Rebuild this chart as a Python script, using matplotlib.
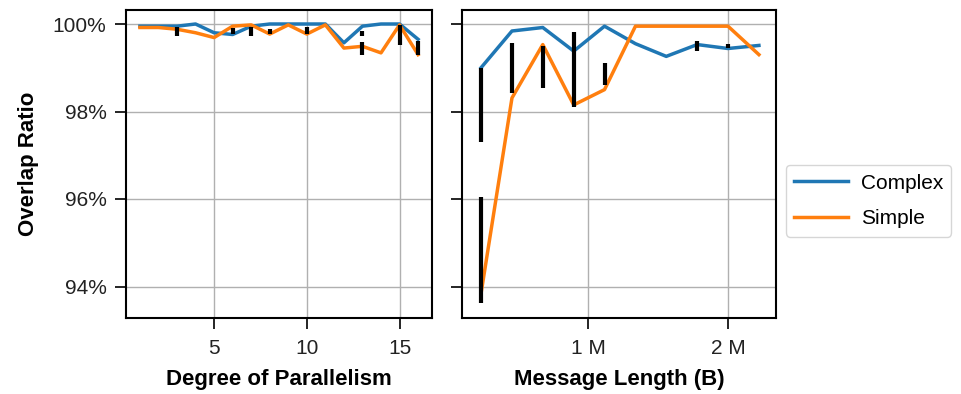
import numpy as np
import matplotlib
matplotlib.use("Agg")
import matplotlib.pyplot as plt
from matplotlib.ticker import MultipleLocator, PercentFormatter, EngFormatter

plt.rcParams['font.family'] = ['Liberation Sans', 'DejaVu Sans']
plt.rcParams['font.size'] = 15

# degree of parallelism panel
par_x = [1, 2, 3, 4, 5, 6, 7, 8, 9, 10, 11, 12, 13, 14, 15, 16]
par_complex = [99.95, 99.95, 99.95, 100.0, 99.80, 99.76, 99.95, 100.0,
               100.0, 100.0, 100.0, 99.57, 99.95, 100.0, 100.0, 99.65]
par_simple = [99.92, 99.92, 99.88, 99.80, 99.69, 99.95, 99.98, 99.77,
              99.98, 99.77, 99.98, 99.45, 99.49, 99.34, 99.98, 99.30]
par_err_x = [3, 6, 7, 8, 10, 13, 13, 15, 16]
par_err_lo = [99.72, 99.78, 99.72, 99.77, 99.77, 99.73, 99.30, 99.53, 99.30]
par_err_hi = [99.92, 99.90, 99.92, 99.88, 99.92, 99.84, 99.58, 99.98, 99.62]

# message length panel
msg_x = [236000, 457000, 677000, 898000, 1118000, 1339000, 1559000,
         1780000, 2000000, 2221000]
msg_complex = [99.00, 99.84, 99.92, 99.38, 99.95, 99.55, 99.26, 99.53, 99.44, 99.51]
msg_simple = [93.84, 98.31, 99.53, 98.15, 98.50, 99.95, 99.95, 99.95, 99.95, 99.30]
msg_err_x = [236000, 236000, 457000, 677000, 898000, 1118000, 1780000, 2000000]
msg_err_lo = [97.31, 93.63, 98.42, 98.54, 98.11, 98.61, 99.38, 99.46]
msg_err_hi = [99.00, 96.05, 99.57, 99.49, 99.82, 99.11, 99.61, 99.55]

blue = '#1f77b4'
orange = '#ff7f0e'

fig = plt.figure(figsize=(9.62, 3.94), dpi=100)
ax1 = fig.add_axes([126 / 962, 1 - 318 / 394, 306 / 962, 308 / 394])
ax2 = fig.add_axes([462 / 962, 1 - 318 / 394, 314 / 962, 308 / 394], sharey=ax1)

panels = [
    (ax1, par_x, par_complex, par_simple, par_err_x, par_err_lo, par_err_hi),
    (ax2, msg_x, msg_complex, msg_simple, msg_err_x, msg_err_lo, msg_err_hi),
]
for ax, x, yc, ys, ex, elo, ehi in panels:
    ax.plot(x, yc, color=blue, lw=2.5, label='Complex', zorder=3)
    ax.plot(x, ys, color=orange, lw=2.5, label='Simple', zorder=3)
    ax.vlines(ex, elo, ehi, color='black', lw=3, zorder=4)
    ax.grid(True, color='#b0b0b0', lw=1)
    ax.set_axisbelow(True)
    for s in ax.spines.values():
        s.set_linewidth(1.5)
        s.set_color('black')
    ax.tick_params(direction='out', length=8, width=1.2, colors='black',
                   labelcolor='#222222', labelsize=15)
    ax.tick_params(axis='x', pad=7)
    ax.tick_params(axis='y', pad=6)

ax1.set_ylim(93.28, 100.32)
ax1.yaxis.set_major_locator(MultipleLocator(2))
ax1.yaxis.set_major_formatter(PercentFormatter(decimals=0))
ax1.xaxis.set_major_locator(MultipleLocator(5))
ax1.set_xlim(0.25, 16.75)
ax1.set_xlabel('Degree of Parallelism', fontweight='bold', fontsize=16, labelpad=8)
ax1.set_ylabel('Overlap Ratio', fontweight='bold', fontsize=16, labelpad=10)

ax2.xaxis.set_major_locator(MultipleLocator(1000000))
ax2.xaxis.set_major_formatter(EngFormatter(sep=' '))
ax2.set_xlim(100000, 2343000)
ax2.tick_params(labelleft=False)
ax2.set_xlabel('Message Length (B)', fontweight='bold', fontsize=16, labelpad=8)

handles, labels = ax2.get_legend_handles_labels()
fig.legend(handles, labels, loc='center left', bbox_to_anchor=(0.806, 0.49),
           handlelength=2.6, handletextpad=0.6, labelspacing=0.8,
           frameon=True, edgecolor='#cccccc', fontsize=15)

fig.savefig('out.png', dpi=100)
